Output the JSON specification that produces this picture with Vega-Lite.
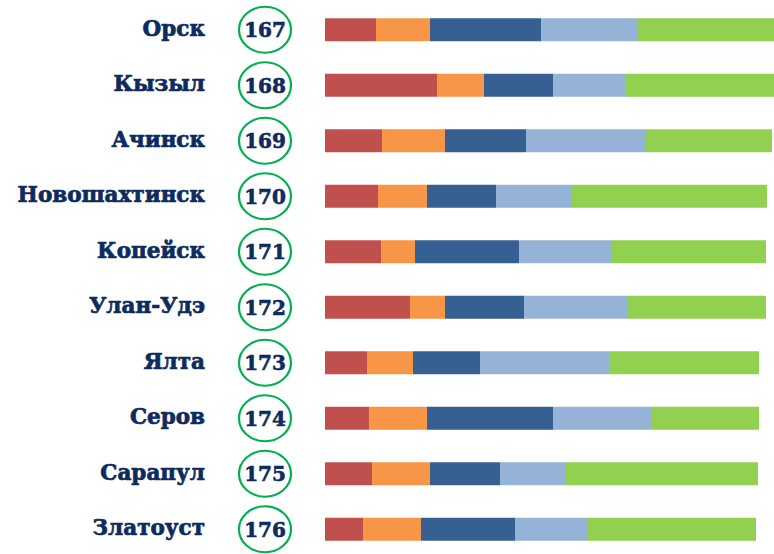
{
  "$schema": "https://vega.github.io/schema/vega-lite/v6.json",
  "padding": {"left": 1, "top": 2, "right": 0, "bottom": 0},
  "background": "white",
  "spacing": 0,
  "config": {"view": {"stroke": null}, "concat": {"spacing": 0}},
  "datasets": {
    "cities": [
      {"city": "Орск", "n": 167},
      {"city": "Кызыл", "n": 168},
      {"city": "Ачинск", "n": 169},
      {"city": "Новошахтинск", "n": 170},
      {"city": "Копейск", "n": 171},
      {"city": "Улан-Удэ", "n": 172},
      {"city": "Ялта", "n": 173},
      {"city": "Серов", "n": 174},
      {"city": "Сарапул", "n": 175},
      {"city": "Златоуст", "n": 176}
    ],
    "bars": [
      {"city": "Орск", "seg": "s1", "v": 51},
      {"city": "Орск", "seg": "s2", "v": 54},
      {"city": "Орск", "seg": "s3", "v": 111},
      {"city": "Орск", "seg": "s4", "v": 96},
      {"city": "Орск", "seg": "s5", "v": 142},
      {"city": "Кызыл", "seg": "s1", "v": 112},
      {"city": "Кызыл", "seg": "s2", "v": 47},
      {"city": "Кызыл", "seg": "s3", "v": 69},
      {"city": "Кызыл", "seg": "s4", "v": 72},
      {"city": "Кызыл", "seg": "s5", "v": 154},
      {"city": "Ачинск", "seg": "s1", "v": 57},
      {"city": "Ачинск", "seg": "s2", "v": 63},
      {"city": "Ачинск", "seg": "s3", "v": 81},
      {"city": "Ачинск", "seg": "s4", "v": 120},
      {"city": "Ачинск", "seg": "s5", "v": 126},
      {"city": "Новошахтинск", "seg": "s1", "v": 53},
      {"city": "Новошахтинск", "seg": "s2", "v": 49},
      {"city": "Новошахтинск", "seg": "s3", "v": 69},
      {"city": "Новошахтинск", "seg": "s4", "v": 76},
      {"city": "Новошахтинск", "seg": "s5", "v": 195},
      {"city": "Копейск", "seg": "s1", "v": 56},
      {"city": "Копейск", "seg": "s2", "v": 34},
      {"city": "Копейск", "seg": "s3", "v": 104},
      {"city": "Копейск", "seg": "s4", "v": 93},
      {"city": "Копейск", "seg": "s5", "v": 154},
      {"city": "Улан-Удэ", "seg": "s1", "v": 85},
      {"city": "Улан-Удэ", "seg": "s2", "v": 35},
      {"city": "Улан-Удэ", "seg": "s3", "v": 79},
      {"city": "Улан-Удэ", "seg": "s4", "v": 104},
      {"city": "Улан-Удэ", "seg": "s5", "v": 138},
      {"city": "Ялта", "seg": "s1", "v": 42},
      {"city": "Ялта", "seg": "s2", "v": 46},
      {"city": "Ялта", "seg": "s3", "v": 67},
      {"city": "Ялта", "seg": "s4", "v": 129},
      {"city": "Ялта", "seg": "s5", "v": 150},
      {"city": "Серов", "seg": "s1", "v": 44},
      {"city": "Серов", "seg": "s2", "v": 58},
      {"city": "Серов", "seg": "s3", "v": 126},
      {"city": "Серов", "seg": "s4", "v": 99},
      {"city": "Серов", "seg": "s5", "v": 107},
      {"city": "Сарапул", "seg": "s1", "v": 47},
      {"city": "Сарапул", "seg": "s2", "v": 58},
      {"city": "Сарапул", "seg": "s3", "v": 70},
      {"city": "Сарапул", "seg": "s4", "v": 66},
      {"city": "Сарапул", "seg": "s5", "v": 192},
      {"city": "Златоуст", "seg": "s1", "v": 38},
      {"city": "Златоуст", "seg": "s2", "v": 58},
      {"city": "Златоуст", "seg": "s3", "v": 94},
      {"city": "Златоуст", "seg": "s4", "v": 73},
      {"city": "Златоуст", "seg": "s5", "v": 168}
    ]
  },
  "hconcat": [
    {
      "width": 204,
      "height": 555,
      "data": {"name": "cities"},
      "mark": {"type": "text", "align": "right", "baseline": "middle", "x": "width",
               "font": "DejaVu Serif", "fontWeight": "bold",
               "fontSize": 21.5, "color": "#0d2b5e", "stroke": "#0d2b5e", "strokeWidth": 0.7},
      "encoding": {
        "y": {"field": "city", "type": "nominal", "sort": null, "axis": null,
              "scale": {"paddingInner": 0, "paddingOuter": 0}},
        "text": {"field": "city"}
      }
    },
    {
      "width": 120,
      "height": 555,
      "data": {"name": "cities"},
      "encoding": {
        "y": {"field": "city", "type": "nominal", "sort": null, "axis": null,
              "scale": {"paddingInner": 0, "paddingOuter": 0}}
      },
      "layer": [
        {
          "mark": {"type": "point", "shape": "M-1,0A1,0.885,0,1,1,1,0A1,0.885,0,1,1,-1,0Z",
                   "size": 2704, "filled": false, "stroke": "#00b050", "strokeWidth": 2.2,
                   "opacity": 1}
        },
        {
          "mark": {"type": "text", "align": "center", "baseline": "middle", "dy": 1.5,
                   "font": "DejaVu Serif", "fontWeight": "bold", "fontSize": 20, "color": "#0d2b5e",
                   "stroke": "#0d2b5e", "strokeWidth": 0.6},
          "encoding": {"text": {"field": "n", "type": "nominal"}}
        }
      ]
    },
    {
      "width": 449,
      "height": 555,
      "data": {"name": "bars"},
      "mark": {"type": "bar", "size": 23, "clip": true},
      "encoding": {
        "y": {"field": "city", "type": "nominal", "sort": null, "axis": null,
              "scale": {"paddingInner": 0, "paddingOuter": 0}},
        "x": {"field": "v", "type": "quantitative", "stack": "zero", "axis": null,
              "scale": {"domain": [0, 449], "nice": false}},
        "color": {"field": "seg", "type": "nominal", "legend": null,
                  "scale": {"domain": ["s1", "s2", "s3", "s4", "s5"],
                            "range": ["#c0504d", "#f79646", "#366092", "#95b3d7", "#92d050"]}},
        "order": {"field": "seg", "sort": "ascending"}
      }
    }
  ]
}
